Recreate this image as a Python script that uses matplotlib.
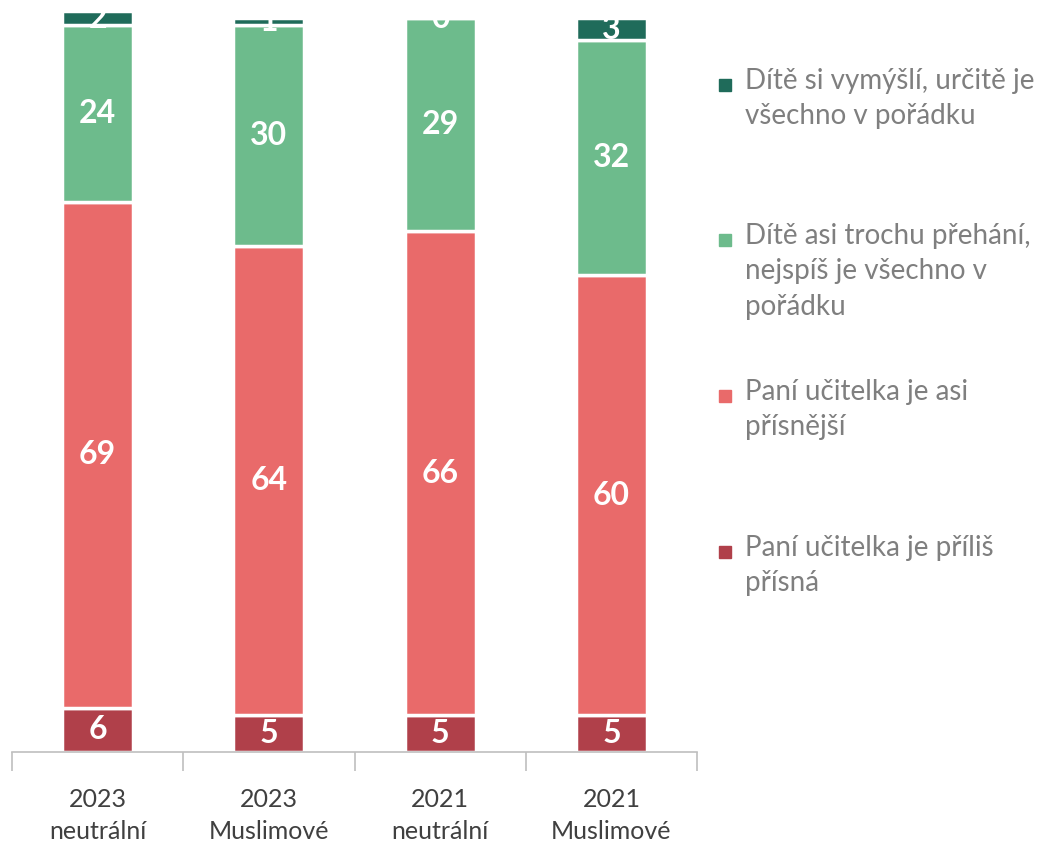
import matplotlib.pyplot as plt
import numpy as np

plt.rcParams['font.family'] = ['Lato', 'DejaVu Sans']

# data (bottom to top)
categories = ["2023\nneutrální", "2023\nMuslimové", "2021\nneutrální", "2021\nMuslimové"]
series_names = ["Paní učitelka je příliš\npřísná",
                "Paní učitelka je asi\npřísnější",
                "Dítě asi trochu přehání,\nnejspíš je všechno v\npořádku",
                "Dítě si vymýšlí, určitě je\nvšechno v pořádku"]
prilis_prisna = [6, 5, 5, 5]
asi_prisnejsi = [69, 64, 66, 60]
trochu_prehani = [24, 30, 29, 32]
vymysli = [2, 1, 0, 3]
colors = ["#B0404A", "#E96A6A", "#6DBB8C", "#1F6B5A"]

series = [prilis_prisna, asi_prisnejsi, trochu_prehani, vymysli]

fig = plt.figure(figsize=(10.38, 8.48), dpi=100)
ax = fig.add_axes([12 / 1038, 1 - 752 / 848, 685 / 1038, 752 / 848])

x = np.arange(len(categories))
bottom = np.zeros(len(categories))
for vals, col in zip(series, colors):
    vals = np.array(vals, dtype=float)
    ax.bar(x, vals, bottom=bottom, width=0.415, color=col,
           edgecolor="white", linewidth=2.5)
    for xi, b, v in zip(x, bottom, vals):
        ax.text(xi, b + v / 2, f"{int(v)}", ha="center", va="center",
                color="white", fontsize=23, fontweight="bold", clip_on=False)
    bottom += vals

ax.set_xlim(-0.5, len(categories) - 0.5)
ax.set_ylim(0, 752 / 7.34)
for s in ["top", "right", "left"]:
    ax.spines[s].set_visible(False)
ax.spines["bottom"].set_color("#BFBFBF")
ax.spines["bottom"].set_linewidth(1.2)
ax.set_yticks([])
ax.set_xticks(x)
ax.set_xticklabels(categories, fontsize=18, color="#404040", linespacing=1.45)
ax.tick_params(axis="x", which="major", length=0, pad=26)
ax.set_xticks(np.arange(-0.5, len(categories)), minor=True)
ax.tick_params(axis="x", which="minor", length=14, color="#BFBFBF", width=1.2)

# legend (top entry = top segment)
legend_tops = [68, 223, 379, 535]
for i, top in enumerate(legend_tops):
    idx = len(series) - 1 - i
    fig.patches.append(plt.Rectangle((719 / 1038, 1 - (top + 23) / 848), 12 / 1038, 12 / 848,
                                     transform=fig.transFigure, color=colors[idx]))
    fig.text(745 / 1038, 1 - top / 848, series_names[idx], fontsize=20,
             color="#7F7F7F", va="top", ha="left", linespacing=1.45)

fig.savefig("out.png", dpi=100, facecolor="white")
